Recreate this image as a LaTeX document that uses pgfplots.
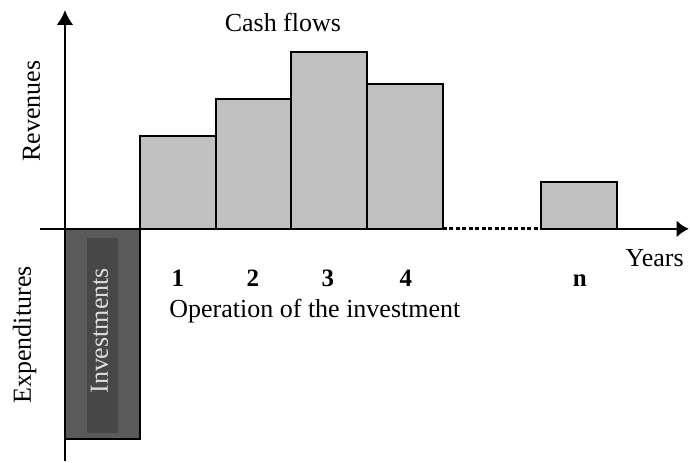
\documentclass[border=0pt]{standalone}
\usepackage{fontspec}
\setmainfont{Liberation Serif}
\usepackage{pgfplots}
\pgfplotsset{compat=1.18}
\usetikzlibrary{arrows.meta}
\definecolor{barg}{HTML}{C0C0C0}
\definecolor{invout}{HTML}{5A5A5A}
\definecolor{invin}{HTML}{474747}
\definecolor{invtxt}{HTML}{DDDDDD}
\newcommand{\bigf}{\fontsize{26}{30}\selectfont}
\newcommand{\numf}{\bfseries\fontsize{25}{29}\selectfont}
\begin{document}
\begin{tikzpicture}
\begin{axis}[hide axis, scale only axis, width=690pt, height=461pt,
  xmin=0, xmax=690, ymin=-232, ymax=229, clip=false]
\path (axis cs:0,-232) rectangle (axis cs:690,229);
% cash flow bars
\addplot[ybar interval, fill=barg, draw=black, line width=2pt]
  coordinates {(140,93) (216,130) (291,177) (367,145) (443,0)};
\addplot[ybar interval, fill=barg, draw=black, line width=2pt]
  coordinates {(541,47) (617,47)};
% investment bar
\addplot[fill=invout, draw=black, line width=2pt]
  coordinates {(65,0) (140,0) (140,-210) (65,-210)} -- cycle;
\addplot[fill=invin, draw=none]
  coordinates {(87,-9) (118,-9) (118,-204) (87,-204)} -- cycle;
% axes
\addplot[line width=2.6pt, -{Latex[length=15pt,width=17pt]}]
  coordinates {(65,-232) (65,219)};
\addplot[line width=2.6pt] coordinates {(40,0) (443,0)};
\addplot[line width=3pt, dash pattern=on 4pt off 2.5pt] coordinates {(443,0) (541,0)};
\addplot[line width=2.6pt, -{Latex[length=12pt,width=17pt]}] coordinates {(541,0) (689,0)};
% texts
\node[font=\bigf, anchor=base] at (axis cs:283,197) {Cash flows};
\node[font=\bigf, rotate=90, anchor=base] at (axis cs:40,118) {Revenues};
\node[font=\bigf, rotate=90, anchor=base] at (axis cs:31,-106) {Expenditures};
\node[font=\bigf, rotate=90, anchor=base, text=invtxt] at (axis cs:108,-102) {Investments};
\node[font=\numf, anchor=base] at (axis cs:178,-58) {1};
\node[font=\numf, anchor=base] at (axis cs:253,-58) {2};
\node[font=\numf, anchor=base] at (axis cs:328,-58) {3};
\node[font=\numf, anchor=base] at (axis cs:406,-58) {4};
\node[font=\numf, anchor=base] at (axis cs:580,-58) {n};
\node[font=\bigf, anchor=base] at (axis cs:315,-89) {Operation of the investment};
\node[font=\bigf, anchor=base] at (axis cs:655,-38) {Years};
\end{axis}
\end{tikzpicture}
\end{document}
